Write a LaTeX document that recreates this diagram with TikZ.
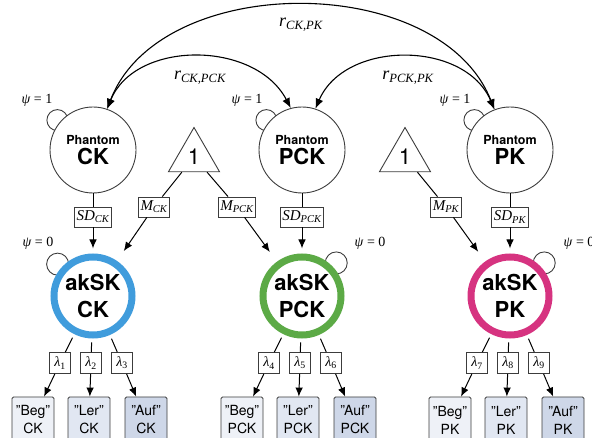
\documentclass[tikz,border=0pt]{standalone}
\usepackage{fontspec}
\setsansfont{TeX Gyre Heros}
\setmainfont{Liberation Serif}
\usetikzlibrary{arrows.meta,shapes.geometric,backgrounds,calc}

\definecolor{linegray}{RGB}{60,60,60}
\definecolor{ckblue}{RGB}{64,156,220}
\definecolor{pckgreen}{RGB}{92,170,70}
\definecolor{pkmagenta}{RGB}{214,51,128}
\definecolor{begfill}{RGB}{238,241,247}
\definecolor{lerfill}{RGB}{225,231,242}
\definecolor{auffill}{RGB}{206,215,232}

% italic symbol with italic subscript, set in the serif text font
\newcommand\symsub[2]{{\rmfamily\itshape #1\textsubscript{#2}}}
\newcommand\lamsub[1]{{\rmfamily\itshape λ\textsubscript{\upshape #1}}}
\newcommand\psieq[1]{{\rmfamily\itshape ψ\/\upshape\ =\ #1}}

\begin{document}
\begin{tikzpicture}[x=1pt,y=-1pt,
  phantom/.style={circle, draw=linegray, line width=0.9pt, fill=white,
    minimum size=86pt, inner sep=0pt, align=center, font=\sffamily\bfseries},
  latent/.style={circle, line width=7pt, fill=white, minimum size=78pt,
    inner sep=0pt, align=center, font=\sffamily\bfseries\fontsize{22}{27}\selectfont},
  parbox/.style={draw=linegray, line width=0.8pt, fill=white, inner sep=2pt,
    minimum height=20pt, font=\fontsize{15}{15}\selectfont},
  lbox/.style={draw=linegray, line width=0.8pt, fill=white, inner sep=1pt,
    minimum size=21pt, font=\fontsize{14}{14}\selectfont},
  obs/.style={draw=linegray, line width=0.8pt, rounded corners=1.5pt,
    minimum width=42pt, minimum height=46pt, inner sep=0pt, align=center,
    font=\sffamily\fontsize{14}{18}\selectfont},
  tri/.style={regular polygon, regular polygon sides=3, draw=linegray,
    line width=0.9pt, fill=white, minimum size=59pt, inner sep=0pt,
    font=\sffamily\fontsize{22}{22}\selectfont},
  conn/.style={line width=1pt, draw=black},
  arr/.style={conn, -{Latex[length=9pt,width=7.5pt]}},
  covarr/.style={line width=1.1pt, {Latex[length=10pt,width=8pt]}-{Latex[length=10pt,width=8pt]}},
  selfloop/.style={line width=0.9pt, draw=linegray},
  lab/.style={font=\fontsize{14}{14}\selectfont, inner sep=0pt},
  rlab/.style={font=\fontsize{18}{18}\selectfont, inner sep=0pt}
]
\useasboundingbox (0,0) rectangle (592,438);
\clip (0,0) rectangle (592,438);

% intercept triangles
\node[tri] (oneA) at (194,157) {1};
\node[tri] (oneB) at (405,157) {1};

% one cluster per knowledge domain
\foreach \n/\x/\col/\la/\lb/\lc in
  {CK/93/ckblue/1/2/3, PCK/302/pckgreen/4/5/6, PK/510/pkmagenta/7/8/9}{
  \node[phantom] (ph\n) at (\x,150)
    {{\fontsize{12.5}{14}\selectfont Phantom}\\[3pt]{\fontsize{22}{22}\selectfont \n}};
  \node[parbox] (sd\n) at (\x,217) {\symsub{SD}{\n}};
  \node[latent, draw=\col] (ak\n) at (\x,296) {akSK\\\n};
  \node[lbox] (la\n) at (\x-33,363) {\lamsub{\la}};
  \node[lbox] (lb\n) at (\x-2,363) {\lamsub{\lb}};
  \node[lbox] (lc\n) at (\x+29,363) {\lamsub{\lc}};
  \node[obs, fill=begfill] (beg\n) at (\x-60,420) {"Beg"\\\n};
  \node[obs, fill=lerfill] (ler\n) at (\x-4,420) {"Ler"\\\n};
  \node[obs, fill=auffill] (auf\n) at (\x+53,420) {"Auf"\\\n};
  \draw[conn] (ph\n) -- (sd\n);
  \draw[arr, shorten >=5pt] (sd\n) -- (ak\n);
  \draw[conn, shorten <=4pt] (ak\n) -- (la\n);
  \draw[conn, shorten <=4pt] (ak\n) -- (lb\n);
  \draw[conn, shorten <=4pt] (ak\n) -- (lc\n);
  \draw[arr] (la\n) -- (beg\n);
  \draw[arr] (lb\n) -- (ler\n);
  \draw[arr] (lc\n) -- (auf\n);
}

% mean parameters
\node[parbox] (mCK) at (154,207) {\symsub{M}{CK}};
\node[parbox] (mPCK) at (237,207) {\symsub{M}{PCK}};
\node[parbox] (mPK) at (446,207) {\symsub{M}{PK}};
\draw[conn] (oneA) -- (mCK);
\draw[conn] (oneA) -- (mPCK);
\draw[conn] (oneB) -- (mPK);
\draw[arr, shorten >=12pt] (mCK) -- (akCK);
\draw[arr, shorten >=12pt] (mPCK) -- (akPCK);
\draw[arr, shorten >=12pt] (mPK) -- (akPK);

% variance loops
\begin{scope}[on background layer]
  \draw[selfloop] ($(phCK.center)!1.07!(phCK.140)$) circle (10.5);
  \draw[selfloop] ($(phPCK.center)!1.07!(phPCK.140)$) circle (10.5);
  \draw[selfloop] ($(phPK.center)!1.07!(phPK.140)$) circle (10.5);
  \draw[selfloop] ($(akCK.center)!1.12!(akCK.138)$) circle (11);
  \draw[selfloop] ($(akPCK.center)!1.12!(akPCK.44)$) circle (11);
  \draw[selfloop] ($(akPK.center)!1.12!(akPK.44)$) circle (11);
\end{scope}
\node[lab] (psiA) at (37,100) {\psieq{1}};
\node[lab] (psiB) at (247,100) {\psieq{1}};
\node[lab] (psiC) at (455,100) {\psieq{1}};
\node[lab] (psiD) at (38,243) {\psieq{0}};
\node[lab] (psiE) at (370,243) {\psieq{0}};
\node[lab] (psiF) at (579,243) {\psieq{0}};

% correlations between phantom variables
\draw[covarr] (phCK.71) .. controls (160,-29) and (440,-29) .. (phPK.111);
\draw[covarr] (phCK.71) .. controls (135,40) and (255,40) .. (phPCK.105);
\draw[covarr] (phPCK.72) .. controls (345,40) and (465,40) .. (phPK.111);
\node[rlab] (rA) at (301,25) {\symsub{r}{CK,PK}};
\node[rlab] (rB) at (200,78) {\symsub{r}{CK,PCK}};
\node[rlab] (rC) at (408,78) {\symsub{r}{PCK,PK}};
\end{tikzpicture}
\end{document}
